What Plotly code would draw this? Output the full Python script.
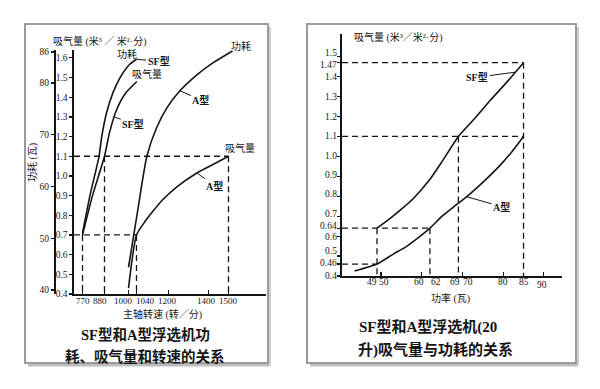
import plotly.graph_objects as go

# ---------------- data: left chart (spindle speed vs power / air intake) ----------------
SF_RPM_POWER = [770, 808, 852, 866, 890, 922, 960, 1005, 1040]
SF_POWER = [51.0, 58.4, 65.7, 69.6, 74.2, 78.1, 81.2, 83.6, 84.6]
A_RPM_POWER = [1000, 1045, 1092, 1142, 1192, 1257, 1342, 1422, 1520]
A_POWER = [44.4, 55.1, 65.9, 71.5, 75.2, 78.5, 81.6, 83.9, 86.2]
SF_RPM_AIR = [770, 820, 880, 905, 940, 985, 1042]
SF_AIR = [0.70, 0.90, 1.10, 1.22, 1.335, 1.42, 1.48]
A_RPM_AIR = [1000, 1040, 1080, 1122, 1172, 1242, 1342, 1422, 1500]
A_AIR = [0.43, 0.70, 0.765, 0.82, 0.88, 0.945, 1.015, 1.058, 1.10]
LEFT_GUIDE_RPM = [770, 880, 1040, 1500]
LEFT_GUIDE_AIR = [0.70, 1.10, 0.70, 1.10]

LEFT_X_TICKS = [770, 880, 1000, 1040, 1200, 1400, 1500]
LEFT_X_TEXT = ["770", "880", "1000", "1040", "1200", "1400", "1500"]
LEFT_POWER_TICKS = [40, 50, 60, 70, 80, 86]
LEFT_AIR_TICKS = [0.4, 0.5, 0.6, 0.7, 0.8, 0.9, 1.0, 1.1, 1.2, 1.3, 1.4, 1.5, 1.6]
LEFT_AIR_TEXT = ["0.4", "0.5", "0.6", "0.7", "0.8", "0.9", "1.0", "1.1", "1.2", "1.3", "1.4", "1.5", "1.6"]

# ---------------- data: right chart (power vs air intake) ----------------
SF_W = [49, 52, 55, 58, 62, 65, 69, 73, 77, 81, 85]
SF_Q = [0.64, 0.685, 0.735, 0.79, 0.885, 0.975, 1.10, 1.19, 1.285, 1.375, 1.47]
A_W = [43.5, 49, 53, 56, 59, 62, 65, 69, 72, 75, 79, 82, 85]
A_Q = [0.425, 0.46, 0.51, 0.545, 0.59, 0.64, 0.70, 0.765, 0.815, 0.87, 0.95, 1.02, 1.10]
RIGHT_GUIDE_W = [49, 62, 49, 69, 85, 85]
RIGHT_GUIDE_Q = [0.64, 0.64, 0.46, 1.10, 1.10, 1.47]

RIGHT_X_TICKS = [49, 50, 60, 62, 69, 70, 80, 85, 90]
RIGHT_X_TEXT = ["49", "50", "60", "62", "69", "70", "80", "85", "90"]
RIGHT_X_MARKS = [50, 60, 70, 80, 90]
RIGHT_Y_TICKS = [0.4, 0.46, 0.5, 0.6, 0.64, 0.7, 0.8, 0.9, 1.0, 1.1, 1.2, 1.3, 1.4, 1.47, 1.5]
RIGHT_Y_TEXT = ["0.4", "0.46", "0.5", "0.6", "0.64", "0.7", "0.8", "0.9", "1.0",
                "1.1", "1.2", "1.3", "1.4", "1.47", "1.5"]

# ---------------- geometry / style ----------------
W_PX, H_PX = 600, 389
def fx(x):
    return x / W_PX
def fy(y):
    return 1 - y / H_PX

INK = "#151515"
NUM_FONT = "Liberation Serif"
TXT_FONT = "Liberation Serif, Noto Sans CJK SC"

L_X_RANGE = [727.5, 1687.5]
L_POWER_RANGE = [39.23, 86.39]
L_AIR_RANGE = [0.4, 1.64]
R_X_RANGE = [40.4, 94.45]
R_Y_RANGE = [0.4, 1.614]

# per-label nudges (pixels) reproducing the hand-set label placement of the print
LEFT_X_SHIFT = {880: -5, 1000: -5, 1040: 9, 1200: -1, 1400: -2}
RIGHT_X_SHIFT = {49: -5, 50: 3, 60: -3, 62: 6, 69: -3, 70: 6, 90: -2}
RIGHT_Y_SHIFT = {1.5: 4, 1.47: -2, 0.5: 5, 0.46: 1, 0.64: 2, 0.6: -1, 0.8: 2, 0.7: 2, 0.9: 1}

fig = go.Figure()

def add_curve(x, y, xa, ya, width=1.6):
    fig.add_trace(go.Scatter(x=x, y=y, xaxis=xa, yaxis=ya, mode="lines",
                             line=dict(color=INK, width=width, shape="spline", smoothing=0.6),
                             hoverinfo="skip", showlegend=False))

def add_dashed(x, y, xa, ya):
    fig.add_trace(go.Scatter(x=x, y=y, xaxis=xa, yaxis=ya, mode="lines",
                             line=dict(color=INK, width=1.3, dash="6px,4px"),
                             hoverinfo="skip", showlegend=False))

def add_guides(gx, gy, xa, ya, xmin, ymin):
    verts, hors = {}, {}
    for x, y in zip(gx, gy):
        verts[x] = max(verts.get(x, y), y)
        hors[y] = max(hors.get(y, x), x)
    for x, y in verts.items():
        add_dashed([x, x], [y, ymin], xa, ya)
    for y, x in hors.items():
        add_dashed([xmin, x], [y, y], xa, ya)

# left chart
add_guides(LEFT_GUIDE_RPM, LEFT_GUIDE_AIR, "x", "y2", L_X_RANGE[0], L_AIR_RANGE[0])
add_curve(SF_RPM_POWER, SF_POWER, "x", "y")
add_curve(A_RPM_POWER, A_POWER, "x", "y")
add_curve(SF_RPM_AIR, SF_AIR, "x", "y2")
add_curve(A_RPM_AIR, A_AIR, "x", "y2")

# right chart
add_guides(RIGHT_GUIDE_W, RIGHT_GUIDE_Q, "x3", "y3", R_X_RANGE[0], R_Y_RANGE[0])
add_curve(SF_W, SF_Q, "x3", "y3")
add_curve(A_W, A_Q, "x3", "y3")

axis_common = dict(showgrid=False, zeroline=False, showline=True, linecolor=INK, linewidth=1.6,
                   tickcolor=INK, tickwidth=1.2, ticklen=3, fixedrange=True, automargin=False,
                   tickfont=dict(family=NUM_FONT, size=9.5, color=INK))

fig.update_layout(
    width=W_PX, height=H_PX, autosize=False,
    margin=dict(l=0, r=0, t=0, b=0),
    paper_bgcolor="white", plot_bgcolor="rgba(0,0,0,0)",
    showlegend=False, hovermode=False,
    xaxis=dict(domain=[fx(74), fx(266)], range=L_X_RANGE, anchor="y2",
               tickvals=LEFT_X_TICKS, ticks="inside", showticklabels=False,
               **{**axis_common, "ticklen": 4}),
    yaxis=dict(domain=[fy(294), fy(50)], range=L_POWER_RANGE, anchor="free",
               position=fx(54), side="left", tickvals=LEFT_POWER_TICKS, ticks="outside",
               **axis_common),
    yaxis2=dict(domain=[fy(294), fy(50)], range=L_AIR_RANGE, anchor="x", overlaying="y",
                side="left", tickvals=LEFT_AIR_TICKS, ticktext=LEFT_AIR_TEXT, ticks="outside",
                **axis_common),
    xaxis3=dict(domain=[fx(342), fx(562)], range=R_X_RANGE, anchor="y3",
                tickvals=RIGHT_X_MARKS, ticks="inside", showticklabels=False,
                **{**axis_common, "ticklen": 4}),
    yaxis3=dict(domain=[fy(276), fy(34)], range=R_Y_RANGE, anchor="x3",
                tickvals=RIGHT_Y_TICKS, ticks="outside", showticklabels=False,
                **{**axis_common, "linewidth": 2}),
)

ann = []
def text(x, y, s, size=10, bold=False, angle=0, xref="paper", yref="paper",
         xanchor="center", yanchor="middle", xshift=0, yshift=0, family=TXT_FONT):
    ann.append(dict(x=x, y=y, xref=xref, yref=yref, text=f"<b>{s}</b>" if bold else s,
                    showarrow=False, textangle=angle, xanchor=xanchor, yanchor=yanchor,
                    xshift=xshift, yshift=yshift,
                    font=dict(family=family, size=size, color=INK)))

def pointer(x, y, xref, yref, s, ax, ay, size=10):
    ann.append(dict(x=x, y=y, xref=xref, yref=yref, text=s, showarrow=True,
                    arrowhead=0, arrowwidth=1, arrowcolor=INK, ax=ax, ay=ay,
                    standoff=0, startstandoff=0,
                    font=dict(family=TXT_FONT, size=size, color=INK)))

# tick labels (hand-placed in the original)
for v, s in zip(LEFT_X_TICKS, LEFT_X_TEXT):
    text(v, fy(301), s, size=9, xref="x", xshift=LEFT_X_SHIFT.get(v, 0), family=NUM_FONT)
for v, s in zip(RIGHT_X_TICKS, RIGHT_X_TEXT):
    text(v, fy(282), s, size=9.5, xref="x3", xshift=RIGHT_X_SHIFT.get(v, 0),
         yshift=-3 if v == 90 else 0, family=NUM_FONT)
for v, s in zip(RIGHT_Y_TICKS, RIGHT_Y_TEXT):
    text(fx(339), v, s, size=9.5, yref="y3", xanchor="right",
         yshift=RIGHT_Y_SHIFT.get(v, 0), family=NUM_FONT)

# left chart texts
text(fx(100), fy(41), "吸气量 (米³ ／ 米²·分)", size=10)
text(fx(33), fy(163), "功耗 (瓦)", size=10, angle=-90)
text(fx(162), fy(314), "主轴转速 (转／分)", size=10)
text(fx(127), fy(54), "功耗", size=10)
text(fx(147), fy(74), "吸气量", size=10)
text(fx(241), fy(47), "功耗", size=10)
text(fx(240), fy(148), "吸气量", size=10)
pointer(1040, 84.6, "x", "y", "<b>SF型</b>", 22, 2)
pointer(929, 1.30, "x", "y2", "<b>SF型</b>", 19, 7)
pointer(1257, 78.5, "x", "y", "<b>A型</b>", 21, 9)
pointer(1342, 1.015, "x", "y2", "<b>A型</b>", 18, 13)
text(fx(145), fy(334), "SF型和A型浮选机功", size=14.5, bold=True)
text(fx(145), fy(356), "耗、吸气量和转速的关系", size=14.5, bold=True)

# right chart texts
text(fx(398), fy(38), "吸气量 (米³／米²·分)", size=10)
text(fx(450), fy(298), "功率 (瓦)", size=10)
pointer(83, 1.4225, "x3", "y3", "<b>SF型</b>", -38, 5)
pointer(71, 0.798, "x3", "y3", "<b>A型</b>", 35, 10)
text(fx(428), fy(327), "SF型和A型浮选机(20", size=15, bold=True)
text(fx(435), fy(350), "升)吸气量与功耗的关系", size=15, bold=True)

fig.update_layout(annotations=ann)

# picture frames with shadow
shapes = []
for x0, x1 in [(25, 268), (307, 576)]:
    shapes.append(dict(type="line", xref="paper", yref="paper", layer="below",
                       x0=fx(x0 + 3), x1=fx(x1 + 2), y0=fy(365), y1=fy(365),
                       line=dict(color="#bdbdbd", width=3)))
    shapes.append(dict(type="line", xref="paper", yref="paper", layer="below",
                       x0=fx(x1 + 2), x1=fx(x1 + 2), y0=fy(27), y1=fy(365),
                       line=dict(color="#cfcfcf", width=2)))
    shapes.append(dict(type="rect", xref="paper", yref="paper", layer="below",
                       x0=fx(x0), x1=fx(x1), y0=fy(363), y1=fy(24),
                       line=dict(color="#9a9a9a", width=2), fillcolor="rgba(0,0,0,0)"))
fig.update_layout(shapes=shapes)

fig.write_html("out.html", config={"displayModeBar": False, "staticPlot": True},
               post_script="document.body.style.margin='0px';")
